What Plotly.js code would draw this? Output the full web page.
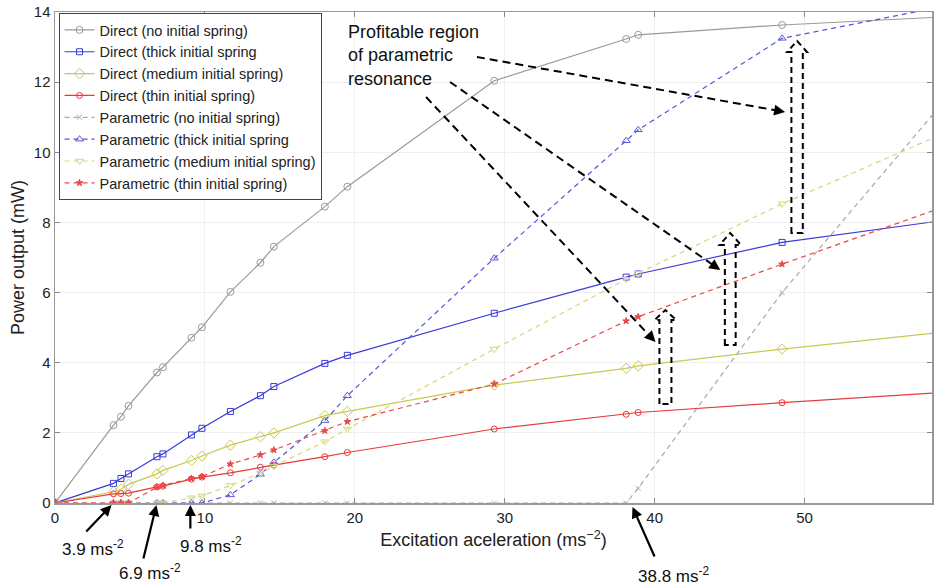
<!DOCTYPE html>
<html><head><meta charset="utf-8">
<script src="https://cdn.plot.ly/plotly-3.0.1.min.js"></script>
<style>html,body{margin:0;padding:0;background:#fff}</style>
</head><body><div id="chart" style="width:934px;height:587px"></div>
<script>
// Excitation acceleration (ms^-2)
const accel = [0, 3.9, 4.4, 4.9, 6.8, 7.2, 9.1, 9.8, 11.7, 13.7, 14.6, 18.0, 19.5, 29.3, 38.1, 38.9, 48.5, 58.8];
// Power output (mW)
const directNone   = [0, 2.22, 2.46, 2.77, 3.72, 3.87, 4.71, 5.01, 6.02, 6.85, 7.31, 8.45, 9.02, 12.04, 13.23, 13.35, 13.63, 13.85];
const directThick  = [0, 0.56, 0.70, 0.83, 1.32, 1.40, 1.94, 2.13, 2.61, 3.06, 3.32, 3.98, 4.21, 5.41, 6.44, 6.53, 7.43, 8.03];
const directMedium = [0, 0.32, 0.39, 0.53, 0.83, 0.93, 1.21, 1.34, 1.65, 1.89, 2.00, 2.49, 2.61, 3.36, 3.84, 3.91, 4.39, 4.85];
const directThin   = [0, 0.26, 0.27, 0.28, 0.46, 0.48, 0.68, 0.74, 0.86, 1.02, 1.08, 1.32, 1.44, 2.11, 2.53, 2.58, 2.86, 3.14];
const paramNone    = [0, 0, 0, 0, 0, 0, 0, 0, 0, 0, 0, 0, 0, 0, 0, 0.42, 6.0, 11.2];
const paramThick   = [0, 0, 0, 0, 0, 0, 0, 0, 0.23, 0.82, 1.16, 2.35, 3.06, 6.98, 10.33, 10.64, 13.25, 14.12];
const paramMedium  = [0, 0, 0, 0, 0, 0, 0.15, 0.20, 0.50, 0.85, 1.05, 1.75, 2.11, 4.39, 6.38, 6.55, 8.53, 10.45];
const paramThin    = [0, 0, 0, 0, 0.45, 0.50, 0.70, 0.75, 1.11, 1.37, 1.51, 2.06, 2.32, 3.39, 5.19, 5.31, 6.81, 8.37];

const seriesNames = [
  'Direct (no initial spring)', 'Direct (thick initial spring', 'Direct (medium initial spring)', 'Direct (thin initial spring)',
  'Parametric (no initial spring)', 'Parametric (thick initial spring', 'Parametric (medium initial spring)', 'Parametric (thin initial spring)'
];
const onsetLabels = ['3.9 ms<sup>-2</sup>', '6.9 ms<sup>-2</sup>', '9.8 ms<sup>-2</sup>', '38.8 ms<sup>-2</sup>'];
const xTicks = [0, 10, 20, 30, 40, 50];
const yTicks = [0, 2, 4, 6, 8, 10, 12, 14];

const FONT = 'Liberation Sans, Arial, Helvetica, sans-serif';
const dashP = '5px,4px';
function tr(y, name, color, symbol, size, dashed) {
  return {
    x: accel, y: y, name: name, type: 'scatter', mode: 'lines+markers', cliponaxis: true,
    line: {color: color, width: 1.2, dash: dashed ? dashP : 'solid'},
    marker: {symbol: symbol, size: size, color: color, line: {color: color, width: 1}}
  };
}
const data = [
  tr(directNone,   seriesNames[0], '#9a9a9a', 'circle-open', 7, false),
  tr(directThick,  seriesNames[1], '#3a3ad8', 'square-open', 6, false),
  tr(directMedium, seriesNames[2], '#c9c950', 'diamond-open', 8, false),
  tr(directThin,   seriesNames[3], '#e83a3a', 'circle-open', 6, false),
  tr(paramNone,    seriesNames[4], '#a8a8a8', 'x-thin-open', 5, true),
  tr(paramThick,   seriesNames[5], '#5555dd', 'triangle-up-open', 7, true),
  tr(paramMedium,  seriesNames[6], '#d6d67a', 'triangle-down-open', 7, true),
  tr(paramThin,    seriesNames[7], '#ea4848', 'star', 5, true)
];

// helpers: pixel position estimates -> data / paper coordinates (decorations only)
const X = px => (px - 55) / 15.03;
const Y = py => (503 - py) / 35.07;
const P = py => (503 - py) / 491;

const shapes = [];
const annotations = [];
// dashed pointer arrows from the text
const pointers = [[478, 57, 787, 112], [451, 82, 722, 270], [427, 97, 657, 342]];
pointers.forEach(p => {
  const dx = p[2] - p[0], dy = p[3] - p[1], L = Math.hypot(dx, dy);
  const ex = p[2] - dx / L * 6, ey = p[3] - dy / L * 6;
  shapes.push({type: 'line', xref: 'x', yref: 'y', x0: X(p[0]), y0: Y(p[1]), x1: X(ex), y1: Y(ey),
    line: {color: '#000', width: 2, dash: '8px,5px'}});
  annotations.push({xref: 'x', yref: 'y', x: X(p[2]), y: Y(p[3]), ax: -dx / L * 12, ay: -dy / L * 12,
    text: '', showarrow: true, arrowhead: 2, arrowsize: 1.1, arrowwidth: 2, arrowcolor: '#000', standoff: 0});
});
// dashed block arrows (gap between parametric and direct)
function blockArrow(xc, hw, hh, yb, yh, yt) {
  const p = `M ${xc - hw} ${yb} L ${xc - hw} ${yh} L ${xc - hh} ${yh} L ${xc} ${yt} L ${xc + hh} ${yh} L ${xc + hw} ${yh} L ${xc + hw} ${yb} Z`;
  shapes.push({type: 'path', xref: 'x', yref: 'y', path: p, line: {color: '#000', width: 2, dash: '6px,4px'}});
}
blockArrow(X(799), 0.38, 0.66, Y(233), Y(52), Y(41));
blockArrow(X(732), 0.36, 0.72, Y(345), Y(245), Y(233));
blockArrow(X(667), 0.40, 0.72, Y(404), Y(320), Y(310));

annotations.push({xref: 'x', yref: 'y', x: X(347), y: Y(56), xanchor: 'left', yanchor: 'middle', align: 'left',
  text: 'Profitable region<br>of parametric<br>resonance', showarrow: false,
  font: {family: FONT, size: 18, color: '#111'}});

// onset arrows below the axis
const onsets = [
  {hx: 111.7, hy: 505, tx: 85, ty: 533, lx: 93, ly: 548},
  {hx: 156.7, hy: 505, tx: 143.3, ty: 560, lx: 150, ly: 572},
  {hx: 190.7, hy: 505, tx: 190.7, ty: 530, lx: 211, ly: 545},
  {hx: 634, hy: 507, tx: 656.7, ty: 558, lx: 675, ly: 575}
];
onsets.forEach((o, i) => {
  annotations.push({xref: 'x', yref: 'paper', x: X(o.hx), y: P(o.hy), ax: o.tx - o.hx, ay: o.ty - o.hy,
    text: '', showarrow: true, arrowhead: 2, arrowsize: 1, arrowwidth: 2.2, arrowcolor: '#000', standoff: 0});
  annotations.push({xref: 'x', yref: 'paper', x: X(o.lx), y: P(o.ly), xanchor: 'center', yanchor: 'middle',
    text: onsetLabels[i], showarrow: false, font: {family: FONT, size: 17, color: '#111'}});
});

const layout = {
  width: 934, height: 587,
  margin: {l: 55, r: 0, t: 12, b: 84},
  paper_bgcolor: '#fff', plot_bgcolor: '#fff',
  font: {family: FONT, color: '#222'},
  showlegend: true,
  legend: {x: 0.004, y: 0.998, xanchor: 'left', yanchor: 'top', bgcolor: '#fff', bordercolor: '#444', borderwidth: 1,
    font: {family: FONT, size: 14.5, color: '#222'}, tracegroupgap: 0},
  xaxis: {range: [0, 58.5], tickvals: xTicks, ticktext: xTicks.map(String), ticks: 'inside', ticklen: 5, tickcolor: '#888',
    showline: true, linecolor: '#999', linewidth: 1.5, mirror: 'ticks', showgrid: true, gridcolor: '#efefef', zeroline: false,
    tickfont: {family: FONT, size: 15, color: '#222'}, automargin: true,
    title: {text: 'Excitation aceleration (ms<sup>−2</sup>)', font: {family: FONT, size: 18, color: '#222'}, standoff: 9}},
  yaxis: {range: [0, 14], tickvals: yTicks, ticktext: yTicks.map(String), ticks: 'inside', ticklen: 5, tickcolor: '#888',
    showline: true, linecolor: '#999', linewidth: 1.5, mirror: 'ticks', showgrid: true, gridcolor: '#efefef', zeroline: false,
    tickfont: {family: FONT, size: 15, color: '#222'}, automargin: true,
    title: {text: 'Power output (mW)', font: {family: FONT, size: 18, color: '#222'}, standoff: 4}},
  shapes: shapes,
  annotations: annotations
};
Plotly.newPlot('chart', data, layout, {displayModeBar: false, staticPlot: true});
</script>
</body></html>
